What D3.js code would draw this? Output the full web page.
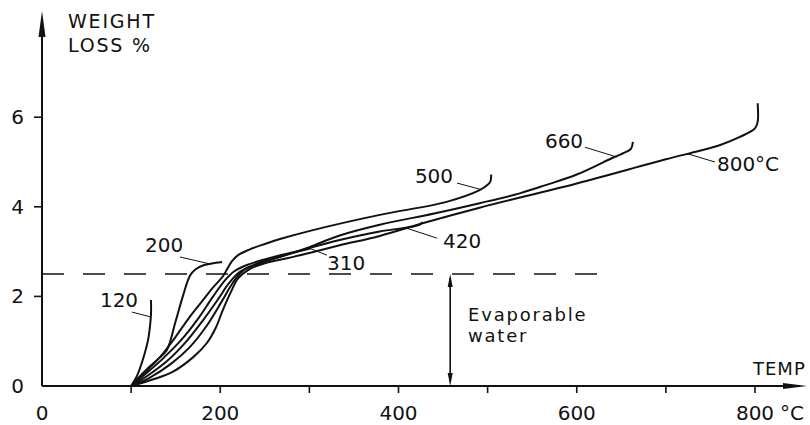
<!DOCTYPE html>
<html>
<head>
<meta charset="utf-8">
<script src="https://cdn.jsdelivr.net/npm/d3@7"></script>
<style>
  body{margin:0;background:#fff}
  svg text{font-family:"DejaVu Sans",sans-serif;fill:#111}
</style>
</head>
<body>
<svg id="chart" width="810" height="425"></svg>
<script>
//data: [temp °C, weight loss %]
const c120 = [[100,0],[106,0.2],[113,0.58],[119,1.03],[121.5,1.4],[122.3,1.6],[122.3,1.92]]
const c200 = [[100,0],[110,0.22],[120,0.42],[130,0.6],[140,0.8],[150,1.45],[158,2.0],[166,2.46],[172,2.6],[182,2.7],[195,2.75],[202,2.77]]
const c310 = [[100,0],[118,0.3],[135,0.6],[155,1.0],[175,1.5],[192,2.0],[205,2.35],[215,2.55],[230,2.7],[260,2.88],[301,3.07]]
const c420 = [[100,0],[120,0.25],[140,0.55],[160,0.95],[180,1.45],[198,1.95],[210,2.3],[222,2.55],[240,2.72],[270,2.9],[300,3.08],[334,3.26],[379,3.45],[410,3.54],[424,3.6],[427,3.66]]
const c500 = [[100,0],[115,0.3],[128,0.55],[136,0.73],[150,1.1],[166,1.55],[180,1.9],[192,2.2],[203,2.45],[208,2.62],[213,2.78],[220,2.92],[232,3.04],[250,3.17],[267,3.28],[304,3.48],[379,3.82],[454,4.11],[491,4.37],[500,4.49],[503,4.56],[504,4.72]]
const c660 = [[100,0],[122,0.2],[145,0.5],[165,0.85],[185,1.35],[202,1.9],[214,2.3],[226,2.58],[245,2.75],[270,2.9],[300,3.1],[334,3.36],[379,3.6],[440,3.85],[491,4.08],[536,4.3],[566,4.49],[600,4.72],[641,5.1],[656,5.23],[661,5.3],[663,5.45]]
const c800 = [[100,0],[125,0.15],[147,0.32],[170,0.65],[185,0.96],[195,1.3],[203,1.7],[212,2.1],[220,2.4],[232,2.6],[250,2.74],[275,2.85],[300,2.97],[334,3.14],[379,3.35],[430,3.65],[491,3.98],[600,4.52],[700,5.06],[738,5.25],[761,5.38],[783,5.56],[800,5.75],[803,5.9],[803,6.31]]
const curves = [c120,c200,c310,c420,c500,c660,c800]

const xTicks = [100,200,300,400,500,600,700,800]
const xLabels = [0,200,400,600,800]
const yTicks = [2,4,6]
const yLabels = [0,2,4,6]
const evapLevel = 2.5
const evapTemp = 458
const dashEnd = 625

//curve labels: text, text anchor [t,w], leader from/to [t,w]
const labelText = ["120","200","310","420","500","660","800°C"]
const labelAt = [[65,1.76],[115.6,2.99],[319.8,2.59],[449.9,3.08],[418.4,4.53],[564.3,5.31],[757.3,4.8]]
const leaderFrom = [[101,1.65],[154.8,2.88],[300.7,3.07],[409.5,3.52],[465.6,4.53],[609.2,5.33],[724.8,5.18]]
const leaderTo = [[122.3,1.54],[189.6,2.72],[319.8,2.92],[443.2,3.3],[493.7,4.38],[645.1,5.11],[755.1,5.0]]

const svg = d3.select("#chart")
const x = d3.scaleLinear().domain([0,800]).range([42,755])
const y = d3.scaleLinear().domain([0,6]).range([386,117.2])
const ink = "#111"

//axes
svg.append("line").attr("x1",x(0)).attr("x2",800).attr("y1",y(0)).attr("y2",y(0))
  .attr("stroke",ink).attr("stroke-width",2)
svg.append("line").attr("x1",x(0)).attr("x2",x(0)).attr("y1",y(0)).attr("y2",20)
  .attr("stroke",ink).attr("stroke-width",2)
//arrow heads
svg.append("path").attr("d",`M${x(0)},11 L${x(0)-3.5},37 L${x(0)+3.5},37 Z`).attr("fill",ink)
svg.append("path").attr("d",`M807,${y(0)} L783,${y(0)-3} L783,${y(0)+3} Z`).attr("fill",ink)

svg.selectAll(".xt").data(xTicks).join("line").attr("class","xt")
  .attr("x1",d=>x(d)).attr("x2",d=>x(d)).attr("y1",y(0)).attr("y2",y(0)+7)
  .attr("stroke",ink).attr("stroke-width",1.6)
svg.selectAll(".yt").data(yTicks).join("line").attr("class","yt")
  .attr("x1",x(0)-8).attr("x2",x(0)).attr("y1",d=>y(d)).attr("y2",d=>y(d))
  .attr("stroke",ink).attr("stroke-width",1.6)

svg.selectAll(".xl").data(xLabels).join("text").attr("class","xl")
  .attr("x",d=>x(d)).attr("y",420).attr("text-anchor","middle")
  .attr("font-size",20).text(d=>d)
svg.append("text").attr("x",780).attr("y",420).attr("font-size",20).text("°C")
svg.selectAll(".yl").data(yLabels).join("text").attr("class","yl")
  .attr("x",24).attr("y",d=>y(d)+7).attr("text-anchor","end")
  .attr("font-size",20).text(d=>d)

svg.append("text").attr("x",68).attr("y",28).attr("font-size",19).attr("letter-spacing",1.8).text("WEIGHT")
svg.append("text").attr("x",68).attr("y",52).attr("font-size",19).attr("letter-spacing",1.8).text("LOSS %")
svg.append("text").attr("x",753).attr("y",375).attr("font-size",18).attr("letter-spacing",1).text("TEMP")

//evaporable water level
svg.append("line").attr("x1",x(0)).attr("x2",x(dashEnd)).attr("y1",y(evapLevel)).attr("y2",y(evapLevel))
  .attr("stroke",ink).attr("stroke-width",1.6).attr("stroke-dasharray","22 19")
let ex = x(evapTemp)
svg.append("line").attr("x1",ex).attr("x2",ex).attr("y1",y(evapLevel)+4).attr("y2",y(0)-4)
  .attr("stroke",ink).attr("stroke-width",1.6)
svg.append("path").attr("d",`M${ex},${y(evapLevel)} L${ex-2.5},${y(evapLevel)+13} L${ex+2.5},${y(evapLevel)+13} Z`).attr("fill",ink)
svg.append("path").attr("d",`M${ex},${y(0)} L${ex-2.5},${y(0)-13} L${ex+2.5},${y(0)-13} Z`).attr("fill",ink)
svg.append("text").attr("x",468).attr("y",321).attr("font-size",18).attr("letter-spacing",1.8).text("Evaporable")
svg.append("text").attr("x",468).attr("y",342).attr("font-size",18).attr("letter-spacing",1.8).text("water")

//curves
const line = d3.line().x(d=>x(d[0])).y(d=>y(d[1])).curve(d3.curveCatmullRom.alpha(0.5))
svg.selectAll(".curve").data(curves).join("path").attr("class","curve")
  .attr("d",line).attr("fill","none").attr("stroke",ink).attr("stroke-width",2)

//labels and leaders
svg.selectAll(".lead").data(leaderFrom).join("line").attr("class","lead")
  .attr("x1",d=>x(d[0])).attr("y1",d=>y(d[1]))
  .attr("x2",(d,i)=>x(leaderTo[i][0])).attr("y2",(d,i)=>y(leaderTo[i][1]))
  .attr("stroke",ink).attr("stroke-width",1)
svg.selectAll(".lab").data(labelText).join("text").attr("class","lab")
  .attr("x",(d,i)=>x(labelAt[i][0])).attr("y",(d,i)=>y(labelAt[i][1]))
  .attr("font-size",20).text(d=>d)
</script>
</body>
</html>
